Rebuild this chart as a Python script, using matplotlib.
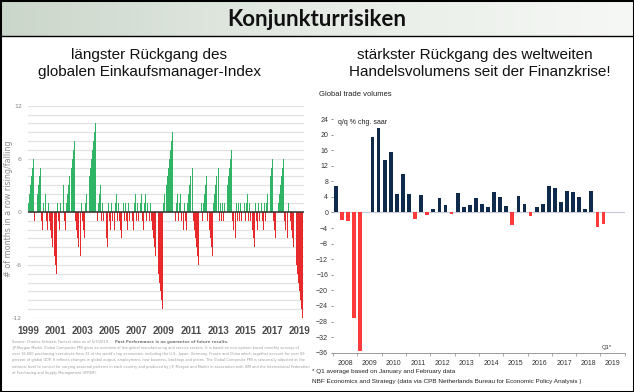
import numpy as np
import matplotlib
matplotlib.use("Agg")
import matplotlib.pyplot as plt
from matplotlib.colors import LinearSegmentedColormap
from matplotlib.patches import Rectangle

W, H = 634, 392

# ---- left panel: global composite PMI, months in a row rising/falling (Jan 1999 .. Apr 2019)
pmi_runs = [
    1, 2, 3, 4, 5, 6, -1, 1, 2, 3, 4, 5,            # 1999
    -1, -2, 1, 2, -1, -2, 1, -1, -2, -3, -4, -5,     # 2000
    -6, -7, 1, -1, -2, 1, 2, 3, -1, -2, 1, 2,        # 2001
    3, 4, 5, 6, 7, 8, -1, -2, -3, -4, -5, 1,         # 2002
    -1, -2, -3, 1, 2, 3, 4, 5, 6, 7, 8, 9,           # 2003
    10, -1, 1, 2, 3, -1, 1, -1, -2, -3, -4, 1,       # 2004
    -1, -2, 1, -1, -2, 1, 2, -1, 1, -1, -2, -3,      # 2005
    1, -1, 1, -1, -2, 1, -1, 1, -1, -2, 1, 2,        # 2006
    -1, 1, -1, 1, 2, -1, -2, 1, 2, -1, 1, -1,        # 2007
    1, -1, -2, -3, -4, -5, -6, -7, -8, -9, -10, -11, # 2008
    1, 2, 3, 4, 5, 6, 7, 8, 9, 10, -1, 1,           # 2009
    2, -1, 1, 2, -1, -2, 1, -1, -2, 1, 2, 3,         # 2010
    4, 5, -1, -2, -3, -4, -5, -6, -7, 1, -1, 1,      # 2011
    2, 3, 4, -1, -2, -3, -4, -5, 1, 2, 3, 4,         # 2012
    5, -1, 1, -1, 1, -1, 1, 2, 3, 4, 5, 6,           # 2013
    7, -1, -2, -3, 1, -1, 1, -1, 1, -1, -2, 1,       # 2014
    -1, 1, 2, -1, 1, -1, -2, -3, -4, 1, -1, -2,      # 2015
    1, -1, 1, -1, -2, 1, -1, 1, 2, 3, 4, 5,          # 2016
    6, -1, -2, -3, 0, 1, 2, 3, 4, 5, 6, -1,          # 2017
    -2, -3, 1, 0, -1, -2, -3, -4, -5, -6, -7, -8,    # 2018
    -9, -10, -11, -12,                               # 2019
]
pmi_years = [1999, 2001, 2003, 2005, 2007, 2009, 2011, 2013, 2015, 2017, 2019]

# ---- right panel: global trade volumes, q/q % chg. saar (2008 Q1 .. 2019 Q1)
trade_years = list(range(2008, 2020))
trade_qoq = [
    6.8, -2.0, -2.2, -27.0,     # 2008
    -35.5, 0.2, 19.5, 21.6,     # 2009
    13.6, 15.6, 4.8, 10.0,      # 2010
    4.8, -1.8, 4.4, -0.6,       # 2011
    0.8, 3.8, 1.8, -0.5,        # 2012
    4.9, 1.4, 2.0, 3.8,         # 2013
    2.1, 1.4, 5.2, 3.9,         # 2014
    1.6, -3.3, 4.2, 2.1,        # 2015
    -0.8, 1.5, 2.1, 6.7,        # 2016
    6.3, 2.6, 5.4, 5.2,         # 2017
    3.9, 0.9, 5.5, -3.7,        # 2018
    -3.0,                       # 2019 Q1*
]

GREEN, RED = "#2fb565", "#e8292c"
NAVY, TRED = "#0f2a4a", "#ff3a3a"
NARROW = ["Liberation Sans Narrow", "Liberation Sans", "DejaVu Sans"]


def fx(x):
    return x / W


def fy(y):
    return 1 - y / H


fig = plt.figure(figsize=(W / 100, H / 100), dpi=100)
fig.patch.set_facecolor("white")

# title banner with soft gradient
ban = fig.add_axes([0, fy(36), 1, 36 / H])
grad = LinearSegmentedColormap.from_list("ban", ["#cbd6ca", "#e6ece5", "#f6f8f5"])
ban.imshow(np.linspace(0, 1, 256)[None, :], aspect="auto", cmap=grad, extent=[0, 1, 0, 1])
ban.axis("off")
fig.text(0.5, fy(19), "Konjunkturrisiken", ha="center", va="center",
         fontsize=16, fontweight="bold", family=["Lato", "DejaVu Sans"], color="#111")
fig.add_artist(plt.Line2D([0, 1], [fy(36), fy(36)], color="black", lw=1.0))

# subtitles
sub = dict(ha="center", va="center", fontsize=11, family=["Liberation Sans", "DejaVu Sans"], color="#111")
fig.text(fx(149), fy(55), "längster Rückgang des", **sub)
fig.text(fx(150), fy(72), "globalen Einkaufsmanager-Index", **sub)
fig.text(fx(475), fy(55), "stärkster Rückgang des weltweiten", **sub)
fig.text(fx(480), fy(72), "Handelsvolumens seit der Finanzkrise!", **sub)

# ===== left chart =====
axl = fig.add_axes([fx(27.5), fy(318), (303.5 - 27.5) / W, (318 - 105.7) / H])
months = np.arange(len(pmi_runs))
vals = np.array(pmi_runs)
cols = [GREEN if v > 0 else RED for v in vals]
axl.bar(months, vals, width=0.85, color=cols, lw=0, zorder=2)
axl.axhline(0, color="#333333", lw=1.1, zorder=3)
axl.set_xlim(-0.5, len(pmi_runs) - 0.5)
axl.set_ylim(-12, 12)
axl.set_yticks(range(-12, 13))
axl.set_yticklabels([str(t) if t % 6 == 0 else "" for t in range(-12, 13)])
axl.grid(axis="y", color="#e2e2e2", lw=0.9, zorder=0)
axl.set_axisbelow(True)
axl.set_xticks([(y - 1999) * 12 for y in pmi_years])
axl.set_xticklabels([str(y) for y in pmi_years])
axl.tick_params(axis="y", length=0, labelsize=4.5, labelcolor="#888888", pad=4)
axl.tick_params(axis="x", length=0, labelsize=7, labelcolor="#4a4a4a", pad=6)
for lab in axl.get_xticklabels():
    lab.set_family(NARROW)
    lab.set_fontweight("bold")
for s in axl.spines.values():
    s.set_visible(False)
fig.text(fx(9), fy(209), "# of months in a row rising/falling", rotation=90,
         ha="center", va="center", fontsize=5.8, color="#8a8a8a")

# source notes
fig.text(fx(12), fy(342), "Source: Charles Schwab, Factset data as of 5/3/2019",
         fontsize=2.6, color="#999999", va="center")
fig.text(fx(228), fy(342), "Past Performance is no guarantee of future results.",
         fontsize=2.8, color="#777777", va="center", ha="right", fontweight="bold")
notes = [
    "J.P.Morgan Markit Global Composite PMI gives an overview of the global manufacturing and service sectors. It is based on non-opinion based monthly surveys of",
    "over 16,000 purchasing executives from 32 of the world's top economies, including the U.S., Japan, Germany, France and China which together account for over 89",
    "percent of global GDP. It reflects changes in global output, employment, new business, backlogs and prices. The Global Composite PMI is seasonally adjusted at the",
    "national level to control for varying seasonal patterns in each country and produced by J.P. Morgan and Markit in association with ISM and the International Federation",
    "of Purchasing and Supply Management (IFPSM).",
]
for i, line in enumerate(notes):
    fig.text(fx(12), fy(348 + i * 6.2), line, fontsize=2.5, color="#999999", va="center")

# ===== right chart =====
axr = fig.add_axes([fx(333), fy(352.7), (624.8 - 333) / W, (352.7 - 119) / H])
q = np.arange(len(trade_qoq))
tv = np.array(trade_qoq)
axr.bar(q, tv, width=0.62, color=[NAVY if v >= 0 else TRED for v in tv], lw=0, zorder=2)
axr.axhline(0, color="#c9ccd8", lw=0.9, zorder=1)
axr.set_xlim(-0.5, len(trade_years) * 4 - 0.5)
axr.set_ylim(-36, 24)
axr.set_yticks(range(-36, 25, 4))
axr.set_xticks([i * 4 + 1.5 for i in range(len(trade_years))])
axr.set_xticklabels([str(y) for y in trade_years])
axr.set_xticks([i * 4 - 0.5 for i in range(len(trade_years) + 1)], minor=True)
axr.tick_params(axis="x", which="major", length=0, labelsize=5, labelcolor="#333333", pad=5)
axr.tick_params(axis="x", which="minor", length=2, width=0.6, color="#9a9a9a")
axr.tick_params(axis="y", length=1.5, width=0.6, color="#777777", labelsize=5,
                labelcolor="#333333", pad=2)
for lab in axr.get_xticklabels() + axr.get_yticklabels():
    lab.set_family(NARROW)
for k in ["top", "right", "left"]:
    axr.spines[k].set_visible(False)
axr.spines["bottom"].set_color("#9a9a9a")
axr.spines["bottom"].set_linewidth(0.7)
axr.text(len(trade_qoq) - 1 + 0.6, -35.2, "Q1*", ha="center", va="bottom",
         fontsize=4.2, color="#333333", family=NARROW)

fig.text(fx(319), fy(94), "Global trade volumes", fontsize=5.5, va="center",
         family=NARROW, color="#222222")
fig.text(fx(338), fy(122.7), "q/q % chg. saar", fontsize=5, va="center",
         family=NARROW, color="#222222")
fig.text(fx(312), fy(371), "* Q1 average based on January and February data",
         fontsize=4.6, va="center", family=NARROW, color="#222222")
fig.text(fx(312), fy(381),
         "NBF Economics and Strategy (data via CPB Netherlands Bureau for Economic Policy Analysis )",
         fontsize=4.6, va="center", family=NARROW, color="#222222")

# outer frame
fig.add_artist(Rectangle((0, 0), 1, 1, transform=fig.transFigure, fill=False,
                         edgecolor="black", lw=2.2))

fig.savefig("out.png", dpi=100, facecolor="white")
